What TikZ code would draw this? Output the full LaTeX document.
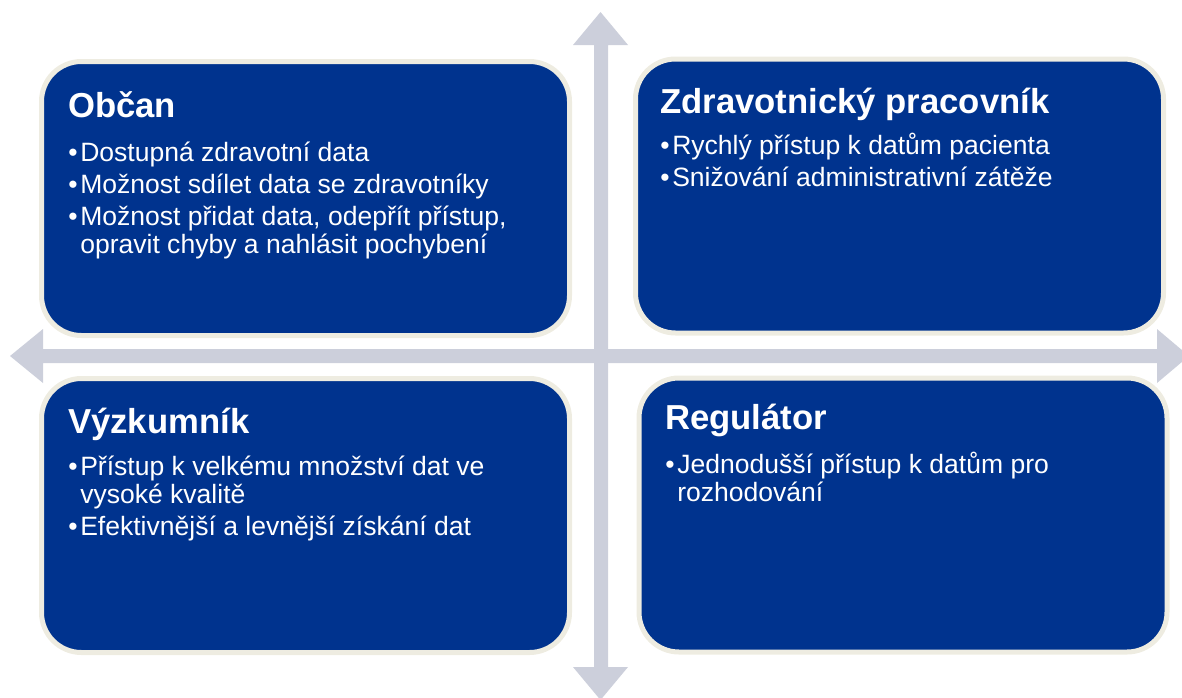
\documentclass[tikz,border=0pt]{standalone}
\usepackage{fontspec}
\setmainfont{Liberation Sans}
\usetikzlibrary{positioning}
\definecolor{boxblue}{HTML}{00338E}
\definecolor{boxrim}{HTML}{EEECE1}
\definecolor{crossgray}{HTML}{CCCFDB}

% one bullet point with hanging indent
\newcommand{\bitem}[1]{\par\hangindent=9pt\hangafter=1\noindent\makebox[9pt][l]{\textbullet}#1}
\newcommand{\itemlist}[1]{\parbox[t]{420pt}{\fontsize{19.9}{21.5}\selectfont\raggedright\setlength\parskip{2.5pt}#1}}

\tikzset{
  quadrant/.style={draw=boxrim, line width=3.75pt, fill=boxblue, rounded corners=30pt,
    minimum width=396pt, minimum height=205.5pt, inner sep=0pt},
  headtext/.style={text=white, font=\bfseries\fontsize{26}{31}\selectfont, anchor=base west, inner sep=0pt},
  listtext/.style={text=white, anchor=base west, inner sep=0pt},
}

\begin{document}
\begin{tikzpicture}[x=0.75pt,y=0.75pt,yscale=-1,xscale=1]
    \path[use as bounding box] (0,0) rectangle (1182,697);

    %Shape: Up Down Arrow
    \fill [crossgray] (594,45) -- (573,45) -- (600.5,12) -- (628,45) -- (608,45) -- (608,667) -- (628,667) -- (600.5,700) -- (573,667) -- (594,667) -- cycle ;
    %Shape: Left Right Arrow
    \fill [crossgray] (43,349) -- (43,329) -- (10,356) -- (43,383) -- (43,363) -- (1157,363) -- (1157,383) -- (1189,356) -- (1157,329) -- (1157,349) -- cycle ;

    %Shape: Rounded Rectangle
    \node [quadrant] (obcan) at (305.5,198.5) {};
    \node [quadrant] (pracovnik) at (899.5,196) {};
    \node [quadrant] (vyzkumnik) at (305.5,515.5) {};
    \node [quadrant] (regulator) at (903,515) {};

    % Text Node
    \node [headtext] (obcanhead) at (68,117) {Občan};
    \node [listtext] (obcanlist) at (68,161) {\itemlist{%
      \bitem{Dostupná zdravotní data}
      \bitem{Možnost sdílet data se zdravotníky}
      \bitem{Možnost přidat data, odepřít přístup,\newline opravit chyby a nahlásit pochybení}}};
    % Text Node
    \node [headtext] (pracovnikhead) at (660,113) {Zdravotnický pracovník};
    \node [listtext] (pracovniklist) at (660,154) {\itemlist{%
      \bitem{Rychlý přístup k datům pacienta}
      \bitem{Snižování administrativní zátěže}}};
    % Text Node
    \node [headtext] (vyzkumnikhead) at (68,433) {Výzkumník};
    \node [listtext] (vyzkumniklist) at (68,475) {\itemlist{%
      \bitem{Přístup k velkému množství dat ve\newline vysoké kvalitě}
      \bitem{Efektivnější a levnější získání dat}}};
    % Text Node
    \node [headtext] (regulatorhead) at (665,429) {Regulátor};
    \node [listtext] (regulatorlist) at (665,473) {\itemlist{%
      \bitem{Jednodušší přístup k datům pro\newline rozhodování}}};

\end{tikzpicture}
\end{document}
